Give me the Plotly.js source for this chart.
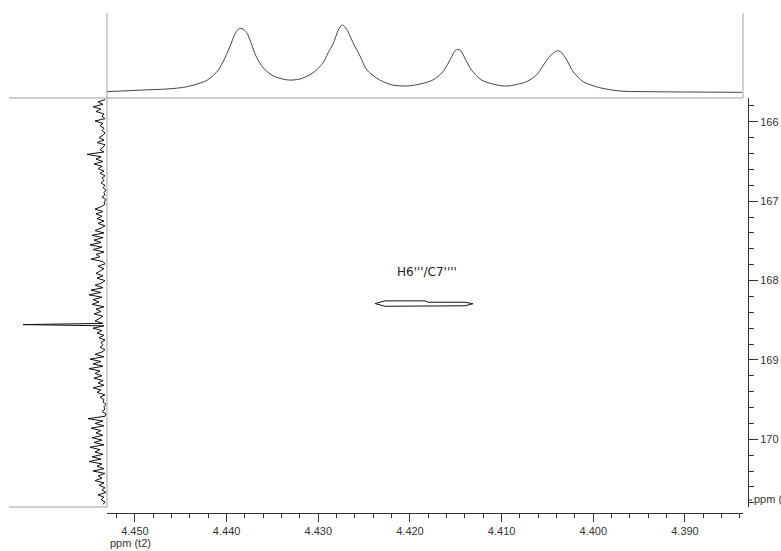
<!DOCTYPE html>
<html>
<head>
<meta charset="utf-8">
<script src="https://cdn.plot.ly/plotly-3.0.1.min.js"></script>
<style>html,body{margin:0;padding:0;background:#fff;}#chart{width:781px;height:551px;}</style>
</head>
<body>
<div id="chart"></div>
<script>
// Top projection (F2, 1H) : chemical shift (ppm) and intensity
var topPpm = [4.4531,4.4491,4.4465,4.4443,4.4421,4.4409,4.4398,4.43945,4.43909,4.43873,4.43846,4.43818,4.43781,4.43745,4.43680,4.4360,4.4349,4.4333,4.4320,4.4306,4.4295,4.42894,4.42836,4.42781,4.42738,4.42690,4.42618,4.42545,4.4247,4.4233,4.4219,4.4203,4.4189,4.4175,4.4164,4.41545,4.41509,4.41479,4.41447,4.41400,4.4133,4.4122,4.4105,4.4094,4.4073,4.4062,4.40491,4.40418,4.40382,4.40345,4.40290,4.4022,4.4011,4.3993,4.3971,4.3935,4.3898,4.3838];
var topInt = [6.3,8,9,11.3,18,28,48,56,64,68.7,69.7,68.7,65.3,58,42,30,22,18,19,25,35,45,54.7,68,73,68.7,54.7,42,28,18,13,12,14,18,26.3,41.3,47.3,48.7,47.3,39.7,28,18,13,12,16.3,23,40,46,47.3,45.3,38,26.3,16.3,10.3,7,6.3,6,5.7];

// Left projection (F1, 13C) : chemical shift (ppm) and intensity
var leftPpm = [
165.72,165.75,165.78,165.81,165.84,165.87,165.90,165.93,165.96,165.99,166.02,166.05,166.08,
166.11,166.14,166.17,166.20,166.23,166.26,166.29,166.32,166.35,166.38,166.41,166.44,166.47,166.50,166.53,166.56,166.59,166.62,166.65,
166.68,166.71,166.74,166.77,166.80,166.83,166.86,166.89,166.92,166.95,166.98,167.01,167.04,
167.07,167.10,167.13,167.16,167.19,167.22,167.25,167.28,167.31,167.34,167.37,
167.40,167.43,167.46,167.49,167.52,167.55,167.58,167.61,167.64,167.67,167.70,167.73,167.76,
167.79,167.82,167.85,167.88,167.91,167.94,167.97,168.00,168.03,168.06,
168.09,168.12,168.15,168.18,168.21,168.24,168.27,168.30,168.33,168.36,168.39,168.42,168.45,168.48,168.51,
168.54,168.555,168.57,
168.60,168.63,168.66,168.69,168.72,168.75,168.78,168.81,168.84,168.87,168.90,
168.93,168.96,168.99,169.02,169.05,169.08,169.11,169.14,169.17,169.20,
169.23,169.26,169.29,169.32,169.35,169.38,169.41,169.44,169.47,169.50,
169.53,169.56,169.59,169.62,169.65,169.68,169.71,
169.74,169.77,169.80,169.83,169.86,169.89,169.92,169.95,169.98,170.01,
170.04,170.07,170.10,170.13,170.16,170.19,170.22,170.25,170.28,170.31,170.34,170.37,170.40,170.43,170.46,170.49,170.52,170.55,170.58,
170.61,170.64,170.67,170.70,170.73,170.76,170.79,170.82];
var leftInt = [
2,9,4,14,6,11,3,5,2,12,4,7,3,
5,2,4,8,3,10,2,4,7,3,20,6,11,4,13,5,9,3,7,
2,5,3,6,2,4,1,3,2,5,1,3,2,
6,12,4,11,5,10,3,9,2,6,12,
3,15,4,13,6,17,5,14,3,11,7,16,4,
2,9,3,7,11,4,10,2,5,12,
4,16,6,18,5,14,8,15,3,11,6,13,4,8,12,
4,84,3,
14,5,10,3,8,2,6,4,7,2,5,
12,3,17,6,14,4,18,7,12,5,
13,4,9,3,14,6,10,2,7,3,
4,1,3,2,5,1,2,
19,4,12,3,16,6,11,4,15,5,
13,3,17,7,12,4,15,6,18,5,10,3,14,2,9,5,12,3,8,
2,5,1,9,3,6,2,4];

// Cross peak contour H6'''/C7''''
var contourF2 = [4.42381,4.42272,4.41836,4.41803,4.41400,4.41312,4.41400,4.42272,4.42381];
var contourF1 = [168.290,168.256,168.256,168.273,168.273,168.292,168.318,168.324,168.290];
var peakLabel = "H6'''/C7''''";
var peakLabelPos = [4.41817, 167.889];

var tickFont = {family: 'Liberation Sans, Arial, sans-serif', size: 11, color: '#333'};
var frame = '#a0a0a0';

var traces = [
  {x: topPpm, y: topInt, xaxis: 'x', yaxis: 'y2', type: 'scatter', mode: 'lines',
   line: {color: '#444', width: 1, shape: 'spline', smoothing: 0.8}, hoverinfo: 'skip'},
  {x: leftInt, y: leftPpm, xaxis: 'x2', yaxis: 'y', type: 'scatter', mode: 'lines',
   line: {color: '#111', width: 1}, hoverinfo: 'skip'},
  {x: contourF2, y: contourF1, xaxis: 'x', yaxis: 'y', type: 'scatter', mode: 'lines',
   line: {color: '#111', width: 1}, hoverinfo: 'skip'}
];

var layout = {
  width: 781, height: 551,
  margin: {l: 9, r: 33, t: 13, b: 38, pad: 0},
  paper_bgcolor: '#fff', plot_bgcolor: 'rgba(0,0,0,0)',
  showlegend: false,
  xaxis: {
    domain: [0.13261, 0.99323], range: [4.45305, 4.38367],
    anchor: 'free', position: 0,
    showline: true, linecolor: '#333', linewidth: 1,
    ticks: 'outside', ticklen: 8, tickcolor: '#333', tickwidth: 1,
    dtick: 0.01, tick0: 4.39, tickformat: '.3f', tickfont: tickFont,
    minor: {dtick: 0.002, tick0: 4.39, ticks: 'outside', ticklen: 4, tickcolor: '#333', showgrid: false},
    showgrid: false, zeroline: false, fixedrange: true
  },
  yaxis: {
    domain: [0.012, 0.83], range: [170.853, 165.70],
    anchor: 'free', position: 1, side: 'right',
    showline: true, linecolor: '#333', linewidth: 1,
    ticks: 'outside', ticklen: 9, tickcolor: '#333', tickwidth: 1,
    dtick: 1, tick0: 166, tickformat: 'd', tickfont: tickFont,
    minor: {dtick: 0.2, tick0: 166, ticks: 'outside', ticklen: 5, tickcolor: '#333', showgrid: false},
    showgrid: false, zeroline: false, fixedrange: true
  },
  yaxis2: {domain: [0.83, 1], range: [0, 85], visible: false, anchor: 'x', fixedrange: true},
  xaxis2: {domain: [0, 0.13261], range: [98, 0], visible: false, anchor: 'y', fixedrange: true},
  shapes: [
    {type: 'line', xref: 'paper', yref: 'paper', x0: 0, x1: 0.99323, y0: 0.83, y1: 0.83, line: {color: frame, width: 1}},
    {type: 'line', xref: 'paper', yref: 'paper', x0: 0.13261, x1: 0.13261, y0: 1, y1: 0.012, line: {color: frame, width: 1}},
    {type: 'line', xref: 'paper', yref: 'paper', x0: 0.99323, x1: 0.99323, y0: 1, y1: 0.83, line: {color: frame, width: 1}},
    {type: 'line', xref: 'paper', yref: 'paper', x0: 0, x1: 0.13261, y0: 0.012, y1: 0.012, line: {color: frame, width: 1}},
    {type: 'line', xref: 'paper', yref: 'paper', x0: 1, x1: 1.0054, y0: 0.026, y1: 0.026, line: {color: '#333', width: 1}}
  ],
  annotations: [
    {text: peakLabel, x: peakLabelPos[0], y: peakLabelPos[1], xref: 'x', yref: 'y', showarrow: false,
     font: {family: 'DejaVu Sans, sans-serif', size: 12, color: '#222'}},
    {text: 'ppm (t2)', x: 0.134, y: -0.06, xref: 'paper', yref: 'paper', xanchor: 'left', yanchor: 'middle', showarrow: false,
     font: tickFont},
    {text: 'ppm (', x: 1.0054, y: 0.028, xref: 'paper', yref: 'paper', xanchor: 'left', yanchor: 'middle', showarrow: false,
     font: tickFont}
  ]
};

Plotly.newPlot('chart', traces, layout, {staticPlot: true, displayModeBar: false});
</script>
</body>
</html>
